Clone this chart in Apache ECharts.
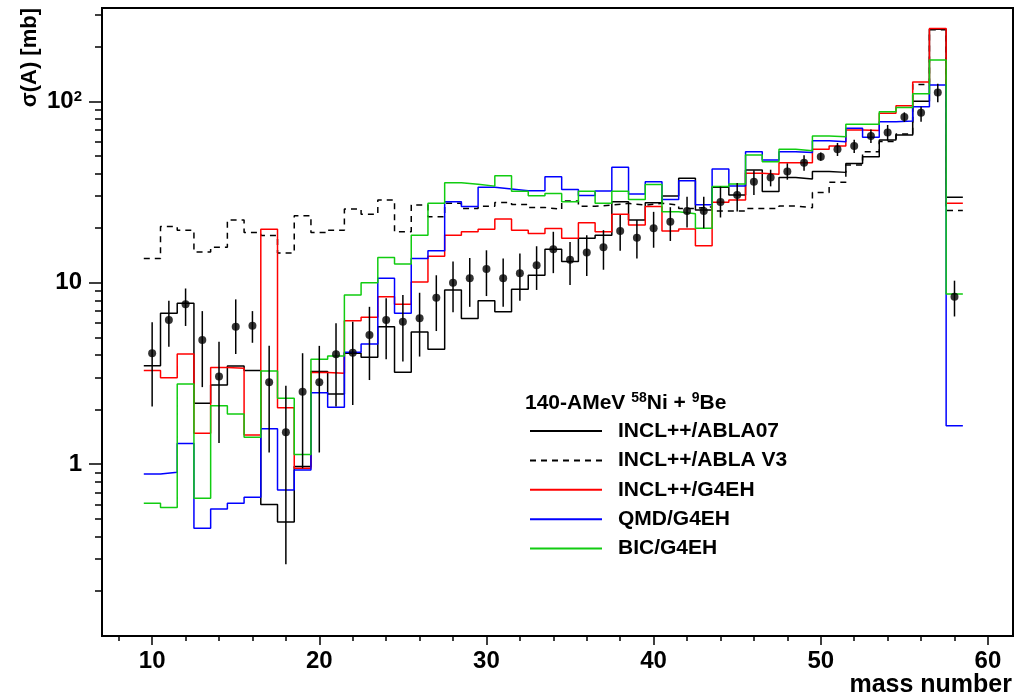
<!DOCTYPE html>
<html><head><meta charset="utf-8">
<script src="https://cdn.jsdelivr.net/npm/echarts@6/dist/echarts.min.js"></script>
<style>html,body{margin:0;padding:0;background:#fff}#c{width:1016px;height:700px}</style>
</head><body><div id="c"></div>
<script>
// mass number bins
const massNumbers = [10,11,12,13,14,15,16,17,18,19,20,21,22,23,24,25,26,27,28,29,30,31,32,33,34,35,36,37,38,39,40,41,42,43,44,45,46,47,48,49,50,51,52,53,54,55,56,57,58];
// INCL++/ABLA07
const inclAbla07 = [3.49,6.79,7.71,2.17,2.73,3.48,3.28,0.60,0.48,0.97,3.24,2.44,4.09,3.88,5.73,3.21,5.35,4.30,9.13,6.35,7.97,6.93,9.21,11.0,15.3,13.1,17.6,18.3,28.0,22.2,27.6,30.1,37.7,25.2,33.6,30.5,41.8,31.8,38.1,37.3,41.0,40.6,45.5,49.5,61.2,65.2,100,250,29.6];
// INCL++/ABLA V3
const inclAblaV3 = [13.6,20.4,19.5,14.8,15.7,22.2,18.9,18.2,14.6,23.4,18.9,19.5,25.5,23.9,28.6,19.1,26.8,23.1,27.4,25.7,26.4,27.7,27.0,26.0,25.4,28.2,26.4,26.8,27.4,26.8,27.4,26.8,25.7,26.2,24.9,24.9,25.7,25.7,26.5,25.9,31.4,35.8,44.6,52.8,60,66,124,248,25.0];
// INCL++/G4EH
const inclG4eh = [3.28,3.0,4.05,1.48,3.41,3.38,1.45,19.7,2.05,0.95,3.2,3.17,6.18,6.45,8.38,7.61,10.1,14.0,18.3,19.1,19.7,22.5,19.5,18.7,19.9,17.6,21.4,19.1,23.9,20.8,26.3,19.3,19.8,16.0,27.8,28.6,40.1,39.6,45.9,45.9,54.4,56.7,69.5,69,85.9,94.6,128,252,27.4];
// QMD/G4EH
const qmdG4eh = [0.884,0.904,1.3,0.444,0.567,0.61,0.658,1.57,0.72,0.93,2.48,2.06,4.14,4.6,10.6,6.79,13.6,15.0,28.0,26.3,33.6,32.9,32.2,32.2,38.4,32.7,30.3,32.1,43.3,30.9,36.1,28.8,36.5,26.9,42.4,34.1,52.8,47.5,52.8,52.2,60.7,59.9,71.0,63.4,77.2,78,93.4,123,1.63];
// BIC/G4EH
const bicG4eh = [0.61,0.577,2.77,0.65,2.1,1.89,1.41,3.26,2.31,1.13,3.79,3.95,8.57,10.0,13.8,12.7,18.3,27.4,35.6,34.9,34.1,38.9,32.0,30.2,31.1,28.0,32.0,27.4,32.0,28.8,34.8,24.6,24.0,20.0,33.9,35.0,50.6,46.5,54.4,53.5,64.4,63.9,74.7,74.7,87.6,92.4,110,169,8.68];
// experimental data with error bars
const expValue = [4.09,6.24,7.61,4.84,3.04,5.73,5.8,2.83,1.5,2.51,2.83,4.04,4.12,5.15,6.24,6.1,6.37,8.28,10.0,10.6,11.9,10.6,11.3,12.5,15.3,13.4,14.7,15.7,19.3,17.7,20.0,21.7,24.9,24.9,27.9,30.5,36.0,38.1,41.1,45.9,49.5,54.4,56.7,64.4,67.3,81.9,86.6,112,8.38];
const expLow = [2.08,4.44,5.78,2.66,1.31,4.05,4.67,1.16,0.281,0.95,1.16,2.08,2.12,2.91,3.79,3.68,3.92,5.42,6.87,7.37,8.45,7.37,7.96,9.13,11.3,9.72,10.9,11.8,15.0,13.6,15.6,17.0,20.2,20.0,22.9,24.7,30.5,34,37,41.5,47.0,50,52,59,60.7,77,77.2,99,6.52];
const expHigh = [6.06,7.96,9.3,6.98,4.73,8.1,6.98,4.49,2.71,4.09,4.49,5.98,6.1,7.37,8.21,8.57,8.81,11.0,13.1,13.7,15.1,13.6,14.5,15.9,19.1,16.8,18.3,19.5,23.6,22.2,24.6,26.1,29.8,29.8,33.9,35.5,41.7,42,45.5,50.5,52.2,59,61.5,70,74.1,87,93.4,125,10.27];
// ticks
const xMajorTicks = [10,20,30,40,50,60];
const xMinorTicks = [8,12,14,16,18,22,24,26,28,32,34,36,38,42,44,46,48,52,54,56,58];
const yMajorTicks = [1,10,100];
const yMinorTicks = [0.2,0.3,0.4,0.5,0.6,0.7,0.8,0.9,2,3,4,5,6,7,8,9,20,30,40,50,60,70,80,90,200,300];
const seriesNames = ['INCL++/ABLA07','INCL++/ABLA V3','INCL++/G4EH','QMD/G4EH','BIC/G4EH'];

function histSteps(vals){
  const pts=[];
  massNumbers.forEach((a,i)=>{pts.push([a-0.5,vals[i]]);pts.push([a+0.5,vals[i]]);});
  return pts;
}
const X_MIN=7, X_MAX=61.5, Y_MIN=0.113, Y_MAX=327;
const FONT='"Liberation Sans", Arial, Helvetica, sans-serif';
const chart = echarts.init(document.getElementById('c'), null, {renderer:'canvas'});
function hist(name, vals, color, type){
  return {name, type:'line', data:histSteps(vals), symbol:'none', showSymbol:false, clip:true,
    lineStyle:{color, width:1.5, type:type||'solid'}, itemStyle:{color}, emphasis:{disabled:true}, z:2};
}
const option = {
  animation:false,
  backgroundColor:'#fff',
  grid:{left:102, right:3, top:8, bottom:64, show:true, borderColor:'#000', borderWidth:2, containLabel:false},
  title:{
    left:525, top:391, padding:0,
    text:'{a|140-AMeV }{s|58}{a|Ni + }{s|9}{a|Be}',
    textStyle:{rich:{
      a:{fontFamily:FONT, fontWeight:'bold', fontSize:21, color:'#000', lineHeight:24},
      s:{fontFamily:FONT, fontWeight:'bold', fontSize:14, color:'#000', verticalAlign:'top', lineHeight:24}
    }}
  },
  legend:{
    data:seriesNames, orient:'vertical', left:529, top:420, padding:0,
    itemWidth:72, itemHeight:14, itemGap:7.4,
    itemStyle:{opacity:0},
    textStyle:{fontFamily:FONT, fontWeight:'bold', fontSize:21, color:'#000', lineHeight:22, padding:[0,0,0,11]},
    selectedMode:false
  },
  xAxis:[
    {type:'value', min:X_MIN, max:X_MAX, position:'bottom',
     axisLine:{show:true, onZero:false, lineStyle:{color:'#000', width:2}},
     axisTick:{show:true, customValues:xMajorTicks, length:9, lineStyle:{color:'#000', width:1.5}},
     axisLabel:{show:true, customValues:xMajorTicks, margin:13, color:'#000', fontFamily:FONT, fontWeight:'bold', fontSize:24},
     splitLine:{show:false}},
    {type:'value', min:X_MIN, max:X_MAX, position:'bottom',
     axisLine:{show:false},
     axisTick:{show:true, customValues:xMinorTicks, length:5, lineStyle:{color:'#000', width:1.5}},
     axisLabel:{show:false}, splitLine:{show:false}}
  ],
  yAxis:[
    {type:'log', logBase:10, min:Y_MIN, max:Y_MAX, position:'left',
     axisLine:{show:true, onZero:false, lineStyle:{color:'#000', width:2}},
     axisTick:{show:true, customValues:yMajorTicks, length:13, lineStyle:{color:'#000', width:1.5}},
     axisLabel:{show:true, customValues:yMajorTicks, margin:20, color:'#000',
       formatter:function(v){ return v>=100 ? '{n|10}{s|2}' : '{n|'+Math.round(v)+'}'; },
       rich:{ n:{fontFamily:FONT, fontWeight:'bold', fontSize:24, color:'#000'},
              s:{fontFamily:FONT, fontWeight:'bold', fontSize:15, color:'#000', verticalAlign:'top'} }},
     splitLine:{show:false}},
    {type:'log', logBase:10, min:Y_MIN, max:Y_MAX, position:'left',
     axisLine:{show:false},
     axisTick:{show:true, customValues:yMinorTicks, length:7, lineStyle:{color:'#000', width:1.5}},
     axisLabel:{show:false}, splitLine:{show:false}}
  ],
  graphic:[
    {type:'text', x:30, y:8, rotation:Math.PI/2,
     style:{text:'σ(A) [mb]', font:'bold 22px '+FONT, fill:'#000', align:'right', verticalAlign:'middle'}},
    {type:'text', x:1012, y:698,
     style:{text:'mass number', font:'bold 25px '+FONT, fill:'#000', align:'right', verticalAlign:'bottom'}}
  ],
  series:[
    hist(seriesNames[0], inclAbla07, '#000000'),
    hist(seriesNames[1], inclAblaV3, '#000000', [6,5]),
    hist(seriesNames[2], inclG4eh, '#ff0000'),
    hist(seriesNames[3], qmdG4eh, '#0000ff'),
    hist(seriesNames[4], bicG4eh, '#11cc11'),
    {type:'custom', name:'data-err', z:5, clip:true,
     data:massNumbers.map((a,i)=>[a, expLow[i], expHigh[i]]),
     encode:{x:0, y:[1,2]},
     renderItem:function(params, api){
       const p1=api.coord([api.value(0), api.value(1)]);
       const p2=api.coord([api.value(0), api.value(2)]);
       return {type:'line', shape:{x1:p1[0], y1:p1[1], x2:p2[0], y2:p2[1]}, style:{stroke:'#000', lineWidth:1.5}};
     }},
    {type:'scatter', name:'data', z:6, symbol:'circle', symbolSize:8,
     itemStyle:{color:'#000'}, emphasis:{disabled:true},
     data:massNumbers.map((a,i)=>[a, expValue[i]])}
  ]
};
chart.setOption(option);
</script>
</body></html>
